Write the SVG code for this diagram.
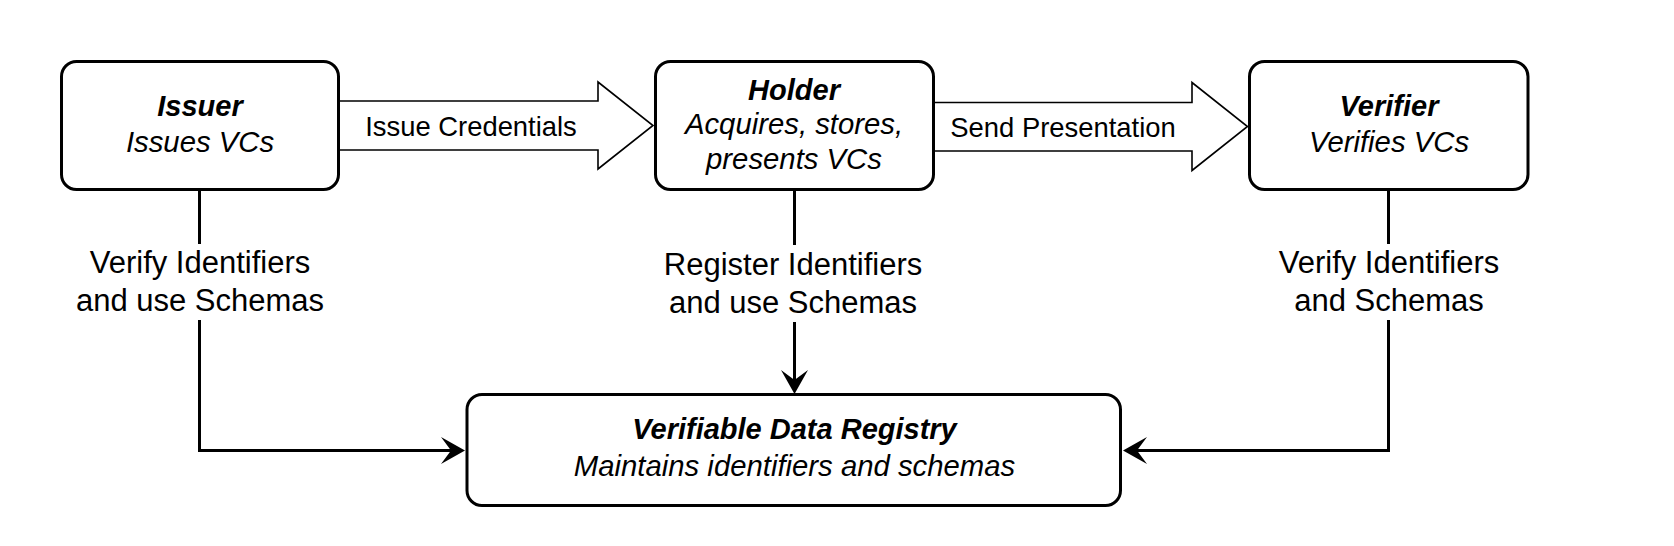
<svg xmlns="http://www.w3.org/2000/svg" width="1674" height="546" viewBox="0 0 1674 546">
<style>
  .box { fill: #ffffff; stroke: #000000; stroke-width: 3; }
  .conn { fill: none; stroke: #000000; stroke-width: 3; }
  .block { fill: #ffffff; stroke: #000000; stroke-width: 1.6; stroke-linejoin: miter; }
  .lblbg { fill: #ffffff; stroke: none; }
  text { font-family: "Liberation Sans", Arial, Helvetica, sans-serif; fill: #000000; text-anchor: middle; }
  .title { font-size: 29px; font-weight: bold; font-style: italic; }
  .sub { font-size: 29.3px; font-style: italic; }
  .elbl { font-size: 31px; }
  .albl { font-size: 27.4px; }
</style>
<defs>
  <marker id="arrow" markerUnits="userSpaceOnUse" viewBox="0 0 24 27" markerWidth="24" markerHeight="27" refX="10" refY="13.5" orient="auto">
    <path d="M0,0 L24,13.5 L0,27 L10,13.5 Z" fill="#000000" stroke="none"/>
  </marker>
</defs>
<rect x="0" y="0" width="1674" height="546" fill="#ffffff"/>
<g id="connectors">
  <path id="edge-issue" class="block" d="M339,101 H598 V82 L653,125.5 L598,169 V150 H339 Z"/>
  <text class="albl" x="471" y="136">Issue Credentials</text>
  <path id="edge-present" class="block" d="M934,102.5 H1192 V82.5 L1247.5,126.5 L1192,170.5 V151 H934 Z"/>
  <text class="albl" x="1063" y="137">Send Presentation</text>

  <path id="edge-issuer-vdr" class="conn" d="M199.5,190 V450.5 H451" marker-end="url(#arrow)"/>
  <rect class="lblbg" x="70" y="244" width="260" height="76"/>
  <text class="elbl" x="200" y="273">Verify Identifiers</text>
  <text class="elbl" x="200" y="311">and use Schemas</text>

  <path id="edge-holder-vdr" class="conn" d="M794.5,190 V380" marker-end="url(#arrow)"/>
  <rect class="lblbg" x="660" y="245" width="268" height="77"/>
  <text class="elbl" x="793" y="275">Register Identifiers</text>
  <text class="elbl" x="793" y="313">and use Schemas</text>

  <path id="edge-verifier-vdr" class="conn" d="M1388.5,190 V450.5 H1137" marker-end="url(#arrow)"/>
  <rect class="lblbg" x="1275" y="244" width="228" height="76"/>
  <text class="elbl" x="1389" y="273">Verify Identifiers</text>
  <text class="elbl" x="1389" y="311">and Schemas</text>
</g>
<g id="issuer">
  <rect class="box" x="61.5" y="61.5" width="277" height="128" rx="15" ry="15"/>
  <text class="title" x="200" y="116">Issuer</text>
  <text class="sub" x="200" y="152">Issues VCs</text>
</g>
<g id="holder">
  <rect class="box" x="655.5" y="61.5" width="278" height="128" rx="15" ry="15"/>
  <text class="title" x="794" y="99.5">Holder</text>
  <text class="sub" x="794" y="134">Acquires, stores,</text>
  <text class="sub" x="794" y="169">presents VCs</text>
</g>
<g id="verifier">
  <rect class="box" x="1249.5" y="61.5" width="278.5" height="128" rx="15" ry="15"/>
  <text class="title" x="1389" y="116">Verifier</text>
  <text class="sub" x="1389" y="152">Verifies VCs</text>
</g>
<g id="registry">
  <rect class="box" x="467" y="394.5" width="653.5" height="111" rx="15" ry="15"/>
  <text class="title" x="794.5" y="439">Verifiable Data Registry</text>
  <text class="sub" x="794.5" y="476">Maintains identifiers and schemas</text>
</g>
</svg>
